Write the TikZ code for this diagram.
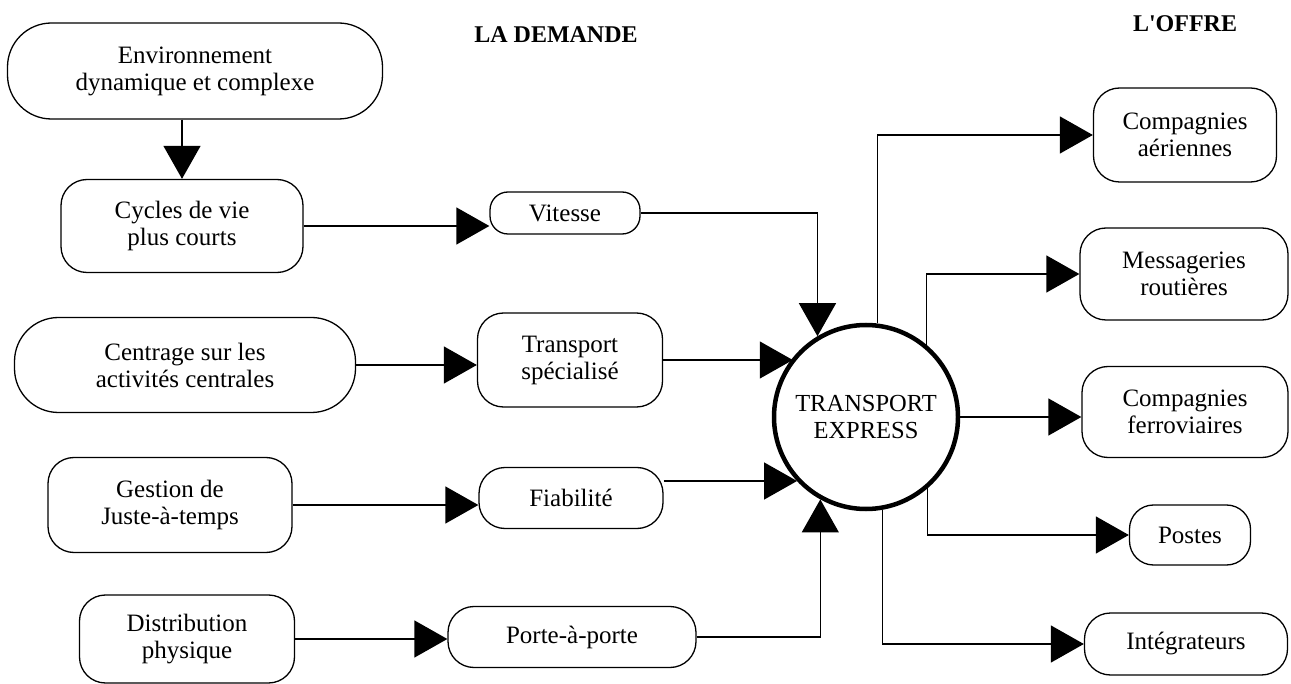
\documentclass[tikz,border=0pt]{standalone}
\usepackage{fontspec}
\setmainfont{Liberation Serif}
\usetikzlibrary{positioning}
\usetikzlibrary{calc}
\usetikzlibrary{arrows.meta}

\tikzset{
  block/.style={draw, line width=1.3pt, rounded corners=26pt, align=center, inner sep=0pt, font=\fontsize{25}{27}\selectfont},
  wideblock/.style={block, rounded corners=44pt},
  hub/.style={draw, circle, line width=4.5pt, align=center, inner sep=0pt, minimum size=184pt, font=\fontsize{24.5}{27}\selectfont},
  heading/.style={font=\bfseries\fontsize{24}{27}\selectfont},
  arr/.style={-{Triangle[length=33pt,width=37pt]}, line width=1.3pt},
}

\begin{document}
\begin{tikzpicture}[x=1pt,y=-1pt]
\useasboundingbox (0,0) rectangle (1291,684);

\node[heading] (dem) at (556,35) {LA DEMANDE};
\node[heading] (off) at (1185,24) {L\textquotesingle OFFRE};

\node[wideblock, minimum width=375, minimum height=96] (env) at (195,71) {Environnement\\dynamique et complexe};
\node[block, minimum width=242, minimum height=93] (cyc) at (182,226) {Cycles de vie\\plus courts};
\node[wideblock, minimum width=341, minimum height=95] (cen) at (185,365) {Centrage sur les\\activités centrales};
\node[block, minimum width=244, minimum height=95] (ges) at (170,505) {Gestion de\\Juste-à-temps};
\node[block, minimum width=215, minimum height=88] (dis) at (187,639) {Distribution\\physique};

\node[block, rounded corners=18pt, minimum width=150, minimum height=42] (vit) at (565,213) {Vitesse};
\node[block, minimum width=185, minimum height=94] (ts) at (570,360) {Transport\\spécialisé};
\node[block, minimum width=184, minimum height=61] (fia) at (571,498) {Fiabilité};
\node[block, minimum width=248, minimum height=61] (pap) at (572,637) {Porte-à-porte};

\node[hub] (te) at (866,417) {TRANSPORT\\EXPRESS};

\node[block, minimum width=183, minimum height=94] (ca) at (1185,135) {Compagnies\\aériennes};
\node[block, minimum width=208, minimum height=92] (mr) at (1184,274) {Messageries\\routières};
\node[block, minimum width=206, minimum height=91] (cf) at (1185,412) {Compagnies\\ferroviaires};
\node[block, rounded corners=24pt, minimum width=121, minimum height=60] (po) at (1190,535) {Postes};
\node[block, minimum width=203, minimum height=62] (integ) at (1186,644) {Intégrateurs};

% demand side
\draw[arr] (env.south -| cyc.north) -- (cyc.north);
\draw[arr] (cyc.east) -- (cyc.east -| vit.west);
\draw[arr] (cen.east) -- (cen.east -| ts.west);
\draw[arr] (ges.east) -- (ges.east -| fia.west);
\draw[arr] (dis.east) -- (dis.east -| pap.west);

% into the hub
\draw[arr] (vit.east) -| (te.121);
\draw[arr] (ts.east) -- (ts.east -| te.141);
\draw[arr] ([shift={(0,-17)}]fia.east) -- ([shift={(0,-17)}]fia.east -| te.223);
\draw[arr] (pap.east) -| (te.241);

% supply side
\draw[arr] (te.83) |- (ca.west);
\draw[arr] (te.50) |- (mr.west);
\draw[arr] (te.east) -- (te.east -| cf.west);
\draw[arr] (te.-49) |- (po.west);
\draw[arr] (te.-80) |- (integ.west);
\end{tikzpicture}
\end{document}
